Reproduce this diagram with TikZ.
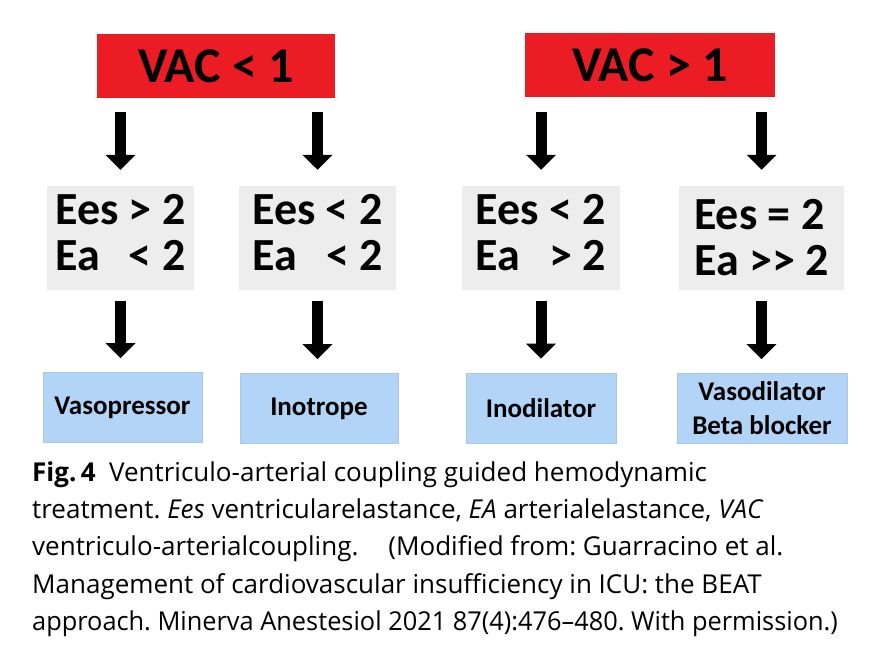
\documentclass[tikz,border=0pt]{standalone}
\usepackage{fontspec}
\usepackage{graphicx}
\setmainfont{Carlito}
\newfontfamily\capfont{Open Sans}
\usetikzlibrary{arrows.meta}
\definecolor{vacred}{RGB}{236,28,36}
\definecolor{eesgrey}{RGB}{237,237,237}
\definecolor{txblue}{RGB}{178,213,247}
\frenchspacing
\begin{document}
\begin{tikzpicture}[x=1pt,y=-1pt,
  redbox/.style={fill=vacred, draw=none, inner sep=0pt, minimum height=64pt,
    font=\fontsize{50}{52}\selectfont\bfseries},
  greybox/.style={fill=eesgrey, draw=none, inner sep=0pt, minimum height=104pt,
    font=\fontsize{46}{46}\selectfont\bfseries, align=left},
  bluebox/.style={fill=txblue, draw=txblue!85!gray, line width=0.6pt, inner sep=0pt, minimum height=70pt,
    font=\fontsize{27}{34}\selectfont\bfseries, align=center},
  bigarrow/.style={line width=11pt, -{Triangle[width=29pt,length=15pt]}},
  capline/.style={anchor=base west, inner sep=0pt, font=\capfont\fontsize{26}{30}\selectfont}
]
\useasboundingbox (0,0) rectangle (880,666);
\fill[white] (0,0) rectangle (880,666);

% top red boxes
\node[redbox, minimum width=238pt] (r1) at (216,66) {VAC < 1};
\node[redbox, minimum width=250pt] (r2) at (650,65.5) {VAC > 1};

% grey boxes
\node[greybox, minimum width=147pt] (g1) at (120.5,238)
  {\begin{tabular}{@{}l@{\ }r@{}}Ees & > 2\\ Ea & < 2\end{tabular}};
\node[greybox, minimum width=157pt] (g2) at (317.5,238)
  {\begin{tabular}{@{}l@{\ }r@{}}Ees & < 2\\ Ea & < 2\end{tabular}};
\node[greybox, minimum width=158pt] (g3) at (541,238)
  {\begin{tabular}{@{}l@{\ }r@{}}Ees & < 2\\ Ea & > 2\end{tabular}};
\node[greybox, minimum width=165pt] (g4) at (761.5,238)
  {Ees = 2\\Ea >{}> 2};

% blue boxes
\node[bluebox, minimum width=159pt] (b1) at (122.5,407.5) {Vasopressor};
\node[bluebox, minimum width=158pt] (b2) at (319,408.5) {Inotrope};
\node[bluebox, minimum width=150pt] (b3) at (541,408) {Inodilator};
\node[bluebox, minimum width=170pt] (b4) at (762,408.5) {Vasodilator\\Beta blocker};

% arrows red -> grey
\foreach \r/\g in {r1/g1, r1/g2, r2/g3, r2/g4}{
  \draw[bigarrow, shorten <=14pt, shorten >=16pt] (\g.north |- \r.south) -- (\g.north);
}
% arrows grey -> blue
\foreach \g/\b in {g1/b1, g2/b2, g3/b3, g4/b4}{
  \draw[bigarrow, shorten <=11pt, shorten >=14pt] (\g.south) -- (\b.north -| \g.south);
}

% caption
\node[capline] (c1) at (32,481) {\textbf{Fig.\,4}\ \ Ventriculo-arterial coupling guided hemodynamic};
\node[capline] (c2) at (32,518) {treatment. \textit{Ees} ventricularelastance, \textit{EA} arterialelastance, \textit{VAC}};
\node[capline] (c3) at (32,555) {ventriculo-arterialcoupling.\hspace{30pt}(Modified from: Guarracino et al.};
\node[capline] (c4) at (32,593) {Management of cardiovascular insufficiency in ICU: the BEAT};
\node[capline] (c5) at (32,630) {\scalebox{0.975}[1]{approach. Minerva Anestesiol 2021 87(4):476–480. With permission.)}};
\end{tikzpicture}
\end{document}
